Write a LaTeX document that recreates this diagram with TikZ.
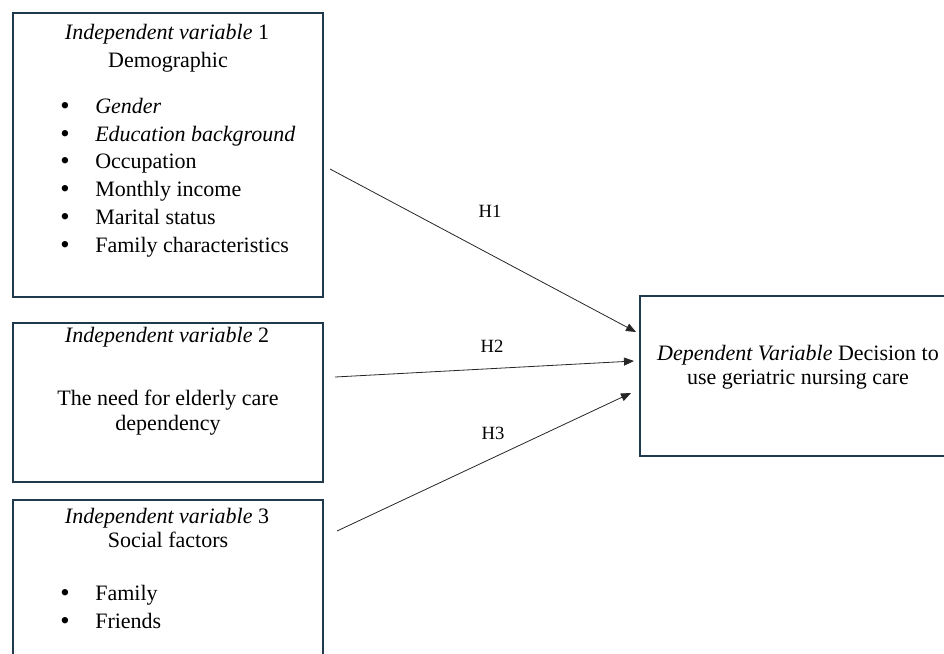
\documentclass[tikz,border=0pt]{standalone}
\usepackage{fontspec}
\setmainfont{Liberation Serif}
\usepackage{xcolor}
\usepackage{tikz}
\usetikzlibrary{arrows.meta}

\definecolor{boxline}{HTML}{1F3A4C}

\begin{document}
\begin{tikzpicture}[
  x=0.75pt, y=-0.75pt,
  every node/.style={font=\fontsize{16.5}{20}\selectfont, inner sep=0pt},
  varbox/.style={rectangle, draw=boxline, line width=1.4pt, minimum width=232.5pt},
  depbox/.style={rectangle, draw=boxline, line width=1.4pt, minimum width=237pt, minimum height=120pt},
  head/.style={anchor=base},
  item/.style={anchor=base west},
  dot/.style={anchor=base, font=\fontsize{20}{20}\selectfont, yshift=-1.4pt},
  hyparr/.style={-{Triangle[length=7.5pt,width=6pt]}, line width=0.6pt, color=black!85},
  hyplabel/.style={anchor=base, font=\fontsize{14}{16}\selectfont},
]
\useasboundingbox (0,0) rectangle (944,653);
\clip (0,0) rectangle (944,653);

% independent variable 1
\node[varbox, minimum height=213pt] (iv1) at (168,155) {};
\node[head] (iv1t) at (167,39) {\textit{Independent variable} 1};
\node[head] (iv1s) at (168,67) {Demographic};
\node[dot] (b11) at (65,113) {\textbullet};
\node[dot] (b12) at (65,141) {\textbullet};
\node[dot] (b13) at (65,168) {\textbullet};
\node[dot] (b14) at (65,196) {\textbullet};
\node[dot] (b15) at (65,224) {\textbullet};
\node[dot] (b16) at (65,252) {\textbullet};
\node[item] (gender) at (95,113) {\textit{Gender}};
\node[item] (edu) at (95,141) {\textit{Education background}};
\node[item] (occ) at (95,168) {Occupation};
\node[item] (income) at (95,196) {Monthly income};
\node[item] (marital) at (95,224) {Marital status};
\node[item] (famchar) at (95,252) {Family characteristics};

% independent variable 2
\node[varbox, minimum height=119.25pt] (iv2) at (168,402.5) {};
\node[head] (iv2t) at (167,342) {\textit{Independent variable} 2};
\node[head] (need1) at (168,405) {The need for elderly care};
\node[head] (need2) at (168,430) {dependency};

% independent variable 3 (runs off the bottom)
\node[varbox, minimum height=150pt] (iv3) at (168,600) {};
\node[head] (iv3t) at (167,523) {\textit{Independent variable} 3};
\node[head] (iv3s) at (168,547) {Social factors};
\node[dot] (b31) at (65,600) {\textbullet};
\node[dot] (b32) at (65,628) {\textbullet};
\node[item] (family) at (95,600) {Family};
\node[item] (friends) at (95,628) {Friends};

% dependent variable (runs off the right)
\node[depbox] (dv) at (798,376) {};
\node[head] (dv1) at (798,360) {\textit{Dependent Variable} Decision to};
\node[head] (dv2) at (798,384) {use geriatric nursing care};

% hypotheses
\coordinate (h1a) at (330,169);
\coordinate (h1b) at (636,332);
\coordinate (h2a) at (335,377);
\coordinate (h2b) at (634,361);
\coordinate (h3a) at (337,531);
\coordinate (h3b) at (631,393);
\draw[hyparr] (h1a) -- (h1b);
\draw[hyparr] (h2a) -- (h2b);
\draw[hyparr] (h3a) -- (h3b);
\node[hyplabel] (H1) at (490,217) {H1};
\node[hyplabel] (H2) at (492,352) {H2};
\node[hyplabel] (H3) at (493,439) {H3};
\end{tikzpicture}
\end{document}
